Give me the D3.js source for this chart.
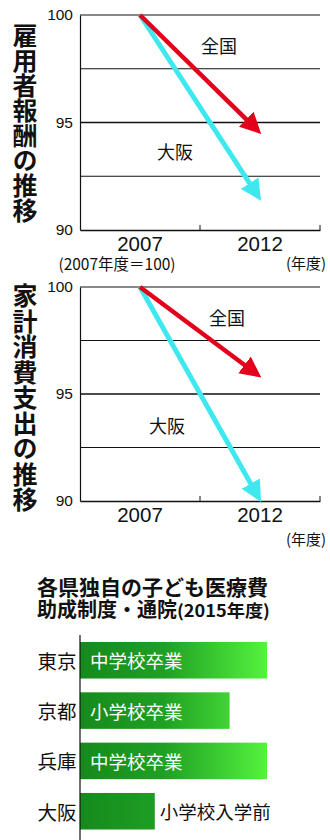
<!DOCTYPE html>
<html>
<head>
<meta charset="utf-8">
<script src="https://cdn.jsdelivr.net/npm/d3@7"></script>
<style>
html,body{margin:0;padding:0;background:#fff;}
svg{display:block;}
</style>
</head>
<body>
<script>
// ---- data ----
const years = ["2007", "2012"];
const yTicks = [90, 95, 100];
const gridVals = [92.5, 95, 97.5, 100];

const title1 = "雇用者報酬の推移";
const national1 = [100, 94.5];
const osaka1 = [100, 91.4];

const title2 = "家計消費支出の推移";
const national2 = [100, 95.8];
const osaka2 = [100, 90.0];

const seriesNames = ["全国", "大阪"];
const baseNote = "(2007年度＝100)";
const unitNote = "(年度)";

const barTitle1 = "各県独自の子ども医療費";
const barTitle2a = "助成制度・通院";
const barTitle2b = "(2015年度)";
const prefectures = ["東京", "京都", "兵庫", "大阪"];
const ageLimit = [15, 12, 15, 6];
const ageLabels = ["中学校卒業", "小学校卒業", "中学校卒業", "小学校入学前"];

// ---- drawing ----
const W = 330, H = 840;
const svg = d3.select("body").append("svg").attr("width", W).attr("height", H);
const JP = "'Noto Sans CJK JP','Noto Sans',sans-serif";
const NUM = "'Liberation Sans',Arial,sans-serif";

const defs = svg.append("defs");
function marker(id, color) {
  defs.append("marker").attr("id", id)
    .attr("viewBox", "0 0 20 20").attr("refX", 19).attr("refY", 10)
    .attr("markerUnits", "userSpaceOnUse")
    .attr("markerWidth", 21).attr("markerHeight", 22).attr("orient", "auto")
    .append("path").attr("d", "M0,0 L20,10 L0,20 Z").attr("fill", color);
}
const RED = "#e2001a", CYAN = "#3fe8ef";
marker("arrRed", RED);
marker("arrCyan", CYAN);

function lineChart(opts) {
  const x = d3.scaleBand().domain(years).range([80, 320]).padding(0);
  const y = d3.scaleLinear().domain([90, 100]).range([opts.y90, opts.y100]);
  const g = svg.append("g");

  // vertical title (single text, vertical writing mode)
  g.append("text")
    .attr("x", 25).attr("y", opts.titleTop)
    .attr("writing-mode", "vertical-rl")
    .style("text-orientation", "upright")
    .attr("letter-spacing", opts.pitch - 25)
    .attr("font-family", JP).attr("font-weight", "bold").attr("font-size", 25)
    .attr("fill", "#111")
    .text(opts.title);

  // grid lines
  g.append("g").selectAll("line").data(gridVals).join("line")
    .attr("x1", 80).attr("x2", 320)
    .attr("y1", d => y(d)).attr("y2", d => y(d))
    .attr("stroke", "#111").attr("stroke-width", d => d === 95 ? 1.6 : 1.1);

  // y axis
  const yAx = g.append("g").attr("transform", "translate(80,0)")
    .call(d3.axisLeft(y).tickValues(yTicks).tickSize(0).tickPadding(7));
  yAx.select(".domain").attr("stroke", "#111").attr("stroke-width", 1.2);
  yAx.selectAll("text").attr("font-family", NUM).attr("font-size", 15.5).attr("fill", "#111");

  // x axis
  const xAx = g.append("g").attr("transform", `translate(0,${opts.y90})`)
    .call(d3.axisBottom(x).tickSize(0).tickPadding(6));
  xAx.select(".domain").attr("stroke", "#111").attr("stroke-width", 1.3);
  xAx.selectAll("text").attr("font-family", NUM).attr("font-size", 20.5).attr("fill", "#111");
  // boundary ticks
  g.append("g").selectAll("line").data([x.range()[0] + x.bandwidth(), x.range()[1]]).join("line")
    .attr("x1", d => d).attr("x2", d => d)
    .attr("y1", opts.y90 - 5).attr("y2", opts.y90)
    .attr("stroke", "#111").attr("stroke-width", 1);

  const cx = d => x(d) + x.bandwidth() / 2;
  // arrows: osaka first, then national on top
  const series = [
    { vals: opts.osaka, color: CYAN, m: "arrCyan", w: 5 },
    { vals: opts.national, color: RED, m: "arrRed", w: 4.5 }
  ];
  series.forEach(s => {
    const x1 = cx(years[0]), y1 = y(s.vals[0]);
    const x2 = cx(years[1]) + 0.5, y2 = y(s.vals[1]);
    const dx = x2 - x1, dy = y2 - y1, L = Math.hypot(dx, dy);
    const k = (L - 12) / L;
    g.append("line")
      .attr("x1", x1).attr("y1", y1)
      .attr("x2", x1 + dx * k).attr("y2", y1 + dy * k)
      .attr("stroke", s.color).attr("stroke-width", s.w);
    g.append("path")
      .attr("d", `M${x1},${y1}L${x2},${y2}`)
      .attr("stroke", "none").attr("fill", "none")
      .attr("marker-end", `url(#${s.m})`);
  });

  // series labels
  g.append("text").attr("x", opts.natLbl[0]).attr("y", opts.natLbl[1])
    .attr("text-anchor", "middle").attr("dominant-baseline", "central")
    .attr("font-family", JP).attr("font-size", 18).attr("fill", "#111").text(seriesNames[0]);
  g.append("text").attr("x", opts.osaLbl[0]).attr("y", opts.osaLbl[1])
    .attr("text-anchor", "middle").attr("dominant-baseline", "central")
    .attr("font-family", JP).attr("font-size", 18).attr("fill", "#111").text(seriesNames[1]);

  // unit notes
  if (opts.baseNote) {
    g.append("text").attr("x", 117).attr("y", opts.noteY)
      .attr("text-anchor", "middle").attr("dominant-baseline", "central")
      .attr("font-family", JP).attr("font-size", 15.5).attr("fill", "#111")
      .text(baseNote);
  }
  g.append("text").attr("x", 306).attr("y", opts.unitY)
    .attr("text-anchor", "middle").attr("dominant-baseline", "central")
    .attr("font-family", JP).attr("font-size", 15).attr("fill", "#111")
    .text(unitNote);
}

lineChart({
  title: title1, titleTop: 23, pitch: 25,
  y100: 15, y90: 230,
  national: national1, osaka: osaka1,
  natLbl: [219, 45], osaLbl: [175, 151],
  baseNote: true, noteY: 263, unitY: 262
});
lineChart({
  title: title2, titleTop: 283, pitch: 25.5,
  y100: 287, y90: 501,
  national: national2, osaka: osaka2,
  natLbl: [227, 317], osaLbl: [167, 425],
  baseNote: false, unitY: 538
});

// ---- bar chart ----
const bg = svg.append("g");
bg.append("text").attr("x", 37).attr("y", 595)
  .attr("font-family", JP).attr("font-weight", "bold").attr("font-size", 21).attr("fill", "#111")
  .text(barTitle1);
const t2 = bg.append("text").attr("x", 37).attr("y", 617)
  .attr("font-family", JP).attr("font-weight", "bold").attr("font-size", 20).attr("fill", "#111");
t2.append("tspan").text(barTitle2a);
t2.append("tspan").attr("font-size", 17).attr("font-weight", "bold")
  .attr("textLength", 93).attr("lengthAdjust", "spacingAndGlyphs").text(barTitle2b);

const bx = d3.scaleLinear().domain([0, 15]).range([80, 267]);
const by = d3.scaleBand().domain(prefectures).range([642, 829.5]).paddingInner(0.274).paddingOuter(0);

const grad = defs.append("linearGradient").attr("id", "gGreen")
  .attr("gradientUnits", "userSpaceOnUse")
  .attr("x1", bx(0)).attr("x2", bx(15)).attr("y1", 0).attr("y2", 0);
grad.append("stop").attr("offset", 0).attr("stop-color", "#168a1c");
grad.append("stop").attr("offset", 0.45).attr("stop-color", "#1fa024");
grad.append("stop").attr("offset", 1).attr("stop-color", "#55f23e");

bg.selectAll("rect.bar").data(prefectures).join("rect").attr("class", "bar")
  .attr("x", bx(0)).attr("y", d => by(d))
  .attr("width", (d, i) => bx(ageLimit[i]) - bx(0))
  .attr("height", by.bandwidth())
  .attr("fill", "url(#gGreen)");

bg.append("line").attr("x1", 80).attr("x2", 80).attr("y1", 635).attr("y2", 840)
  .attr("stroke", "#111").attr("stroke-width", 1.2);

bg.selectAll("text.cat").data(prefectures).join("text").attr("class", "cat")
  .attr("x", 57).attr("y", d => by(d) + by.bandwidth() / 2)
  .attr("text-anchor", "middle").attr("dominant-baseline", "central")
  .attr("font-family", JP).attr("font-size", 19.5).attr("fill", "#111")
  .text(d => d);

bg.selectAll("text.val").data(prefectures).join("text").attr("class", "val")
  .attr("x", (d, i) => ageLimit[i] >= 10 ? 90 : bx(ageLimit[i]) + 5)
  .attr("y", d => by(d) + by.bandwidth() / 2)
  .attr("dominant-baseline", "central")
  .attr("font-family", JP).attr("font-size", 18.5)
  .attr("fill", (d, i) => ageLimit[i] >= 10 ? "#fff" : "#111")
  .text((d, i) => ageLabels[i]);
</script>
</body>
</html>
